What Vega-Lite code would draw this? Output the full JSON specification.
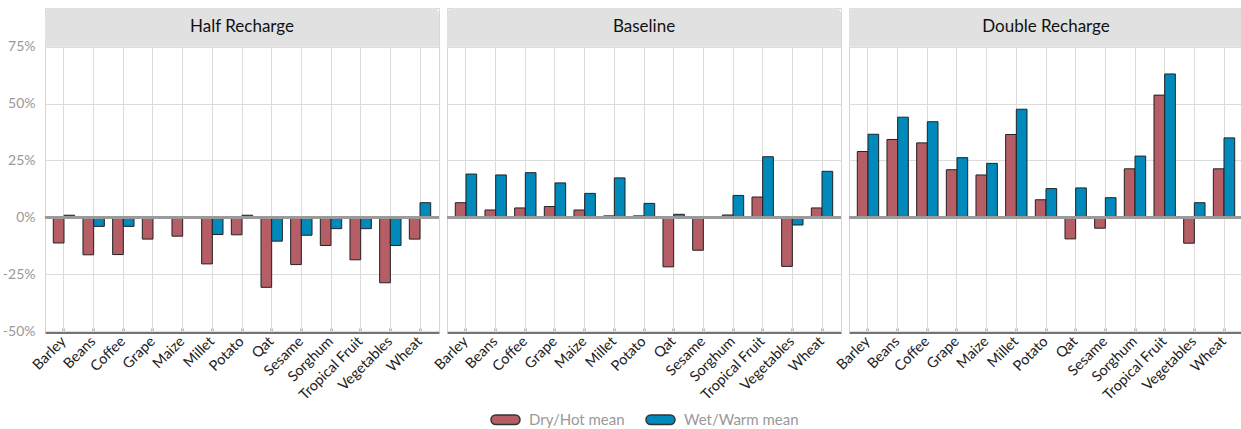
{
  "$schema": "https://vega.github.io/schema/vega-lite/v6.json",
  "padding": {"left": 2, "top": 7, "right": 0, "bottom": 0},
  "background": "white",
  "data": {"values": [
    {"scenario": "Half Recharge", "crop": "Barley", "Dry/Hot mean": -11.3, "Wet/Warm mean": 0.9},
    {"scenario": "Half Recharge", "crop": "Beans", "Dry/Hot mean": -16.5, "Wet/Warm mean": -4.0},
    {"scenario": "Half Recharge", "crop": "Coffee", "Dry/Hot mean": -16.4, "Wet/Warm mean": -4.0},
    {"scenario": "Half Recharge", "crop": "Grape", "Dry/Hot mean": -9.6},
    {"scenario": "Half Recharge", "crop": "Maize", "Dry/Hot mean": -8.3},
    {"scenario": "Half Recharge", "crop": "Millet", "Dry/Hot mean": -20.5, "Wet/Warm mean": -7.6},
    {"scenario": "Half Recharge", "crop": "Potato", "Dry/Hot mean": -7.7, "Wet/Warm mean": 0.9},
    {"scenario": "Half Recharge", "crop": "Qat", "Dry/Hot mean": -30.8, "Wet/Warm mean": -10.5},
    {"scenario": "Half Recharge", "crop": "Sesame", "Dry/Hot mean": -20.8, "Wet/Warm mean": -7.9},
    {"scenario": "Half Recharge", "crop": "Sorghum", "Dry/Hot mean": -12.4, "Wet/Warm mean": -5.0},
    {"scenario": "Half Recharge", "crop": "Tropical Fruit", "Dry/Hot mean": -18.7, "Wet/Warm mean": -5.0},
    {"scenario": "Half Recharge", "crop": "Vegetables", "Dry/Hot mean": -28.8, "Wet/Warm mean": -12.4},
    {"scenario": "Half Recharge", "crop": "Wheat", "Dry/Hot mean": -9.6, "Wet/Warm mean": 6.4},
    {"scenario": "Baseline", "crop": "Barley", "Dry/Hot mean": 6.4, "Wet/Warm mean": 19.0},
    {"scenario": "Baseline", "crop": "Beans", "Dry/Hot mean": 3.2, "Wet/Warm mean": 18.6},
    {"scenario": "Baseline", "crop": "Coffee", "Dry/Hot mean": 4.1, "Wet/Warm mean": 19.6},
    {"scenario": "Baseline", "crop": "Grape", "Dry/Hot mean": 4.7, "Wet/Warm mean": 15.1},
    {"scenario": "Baseline", "crop": "Maize", "Dry/Hot mean": 3.2, "Wet/Warm mean": 10.5},
    {"scenario": "Baseline", "crop": "Millet", "Dry/Hot mean": 0.6, "Wet/Warm mean": 17.3},
    {"scenario": "Baseline", "crop": "Potato", "Dry/Hot mean": 0.6, "Wet/Warm mean": 6.1},
    {"scenario": "Baseline", "crop": "Qat", "Dry/Hot mean": -21.8, "Wet/Warm mean": 1.3},
    {"scenario": "Baseline", "crop": "Sesame", "Dry/Hot mean": -14.5},
    {"scenario": "Baseline", "crop": "Sorghum", "Dry/Hot mean": 1.0, "Wet/Warm mean": 9.6},
    {"scenario": "Baseline", "crop": "Tropical Fruit", "Dry/Hot mean": 8.9, "Wet/Warm mean": 26.6},
    {"scenario": "Baseline", "crop": "Vegetables", "Dry/Hot mean": -21.6, "Wet/Warm mean": -3.4},
    {"scenario": "Baseline", "crop": "Wheat", "Dry/Hot mean": 4.1, "Wet/Warm mean": 20.2},
    {"scenario": "Double Recharge", "crop": "Barley", "Dry/Hot mean": 28.9, "Wet/Warm mean": 36.5},
    {"scenario": "Double Recharge", "crop": "Beans", "Dry/Hot mean": 34.2, "Wet/Warm mean": 44.0},
    {"scenario": "Double Recharge", "crop": "Coffee", "Dry/Hot mean": 32.7, "Wet/Warm mean": 42.0},
    {"scenario": "Double Recharge", "crop": "Grape", "Dry/Hot mean": 20.9, "Wet/Warm mean": 26.2},
    {"scenario": "Double Recharge", "crop": "Maize", "Dry/Hot mean": 18.6, "Wet/Warm mean": 23.7},
    {"scenario": "Double Recharge", "crop": "Millet", "Dry/Hot mean": 36.4, "Wet/Warm mean": 47.5},
    {"scenario": "Double Recharge", "crop": "Potato", "Dry/Hot mean": 7.7, "Wet/Warm mean": 12.6},
    {"scenario": "Double Recharge", "crop": "Qat", "Dry/Hot mean": -9.5, "Wet/Warm mean": 12.9},
    {"scenario": "Double Recharge", "crop": "Sesame", "Dry/Hot mean": -4.8, "Wet/Warm mean": 8.6},
    {"scenario": "Double Recharge", "crop": "Sorghum", "Dry/Hot mean": 21.3, "Wet/Warm mean": 26.9},
    {"scenario": "Double Recharge", "crop": "Tropical Fruit", "Dry/Hot mean": 53.7, "Wet/Warm mean": 63.0},
    {"scenario": "Double Recharge", "crop": "Vegetables", "Dry/Hot mean": -11.4, "Wet/Warm mean": 6.4},
    {"scenario": "Double Recharge", "crop": "Wheat", "Dry/Hot mean": 21.3, "Wet/Warm mean": 34.9}
  ]},
  "transform": [{"fold": ["Dry/Hot mean", "Wet/Warm mean"], "as": ["series", "value"]}],
  "facet": {
    "column": {
      "field": "scenario", "type": "nominal", "title": null,
      "sort": ["Half Recharge", "Baseline", "Double Recharge"],
      "header": {"labels": false, "title": null}
    }
  },
  "spacing": 4,
  "spec": {
    "width": 394,
    "height": 323,
    "layer": [
      {
        "transform": [{"filter": "isValid(datum.value)"}],
        "mark": {"type": "bar", "stroke": "#222", "strokeWidth": 1},
        "encoding": {
          "x": {
            "field": "crop", "type": "nominal",
            "scale": {"paddingInner": 0.28, "paddingOuter": 0.28},
            "axis": {
              "title": null, "labelAngle": -45, "labelFont": "Lato", "labelFontSize": 14.5,
              "labelColor": "#222", "domainColor": "#7a7272", "domainWidth": 3,
              "ticks": true, "tickSize": -4, "tickColor": "#7a7272", "tickWidth": 2,
              "grid": true, "gridColor": "#dcdcdc", "bandPosition": 0.5,
              "labelPadding": 11, "labelOverlap": false, "labelAlign": "right", "labelBaseline": "middle"
            }
          },
          "xOffset": {"field": "series", "type": "nominal"},
          "y": {
            "field": "value", "type": "quantitative",
            "scale": {"domain": [-50, 92], "nice": false, "zero": false},
            "axis": {
              "title": null, "values": [-50, -25, 0, 25, 50, 75],
              "labelExpr": "datum.value + '%'", "domain": false, "ticks": false,
              "labelColor": "#999", "labelFont": "Lato", "labelFontSize": 14,
              "gridColor": "#dcdcdc", "labelPadding": 8
            }
          },
          "color": {
            "field": "series", "type": "nominal",
            "scale": {"range": ["#b65e66", "#0089bb"]},
            "legend": {
              "title": null, "orient": "none", "direction": "horizontal",
              "legendX": 445, "legendY": 396,
              "symbolType": "M-0.67,-0.33L0.67,-0.33A0.33,0.33 0 0 1 0.67,0.33L-0.67,0.33A0.33,0.33 0 0 1 -0.67,-0.33Z",
              "symbolSize": 841, "symbolStrokeColor": "#333", "symbolStrokeWidth": 1.5,
              "symbolOpacity": 1, "labelColor": "#999", "labelFont": "Lato", "labelFontSize": 15,
              "columnPadding": 18, "labelOffset": 8
            }
          }
        }
      },
      {
        "mark": {"type": "rule", "color": "#9a9a9a", "strokeWidth": 2},
        "encoding": {"y": {"datum": 0, "type": "quantitative", "title": null}}
      },
      {
        "transform": [{"aggregate": [{"op": "count", "as": "n"}], "groupby": ["scenario"]}],
        "mark": {"type": "rect", "color": "#e1e1e1", "cornerRadiusTopLeft": 6, "cornerRadiusTopRight": 6},
        "encoding": {
          "y": {"datum": 92, "type": "quantitative", "title": null},
          "y2": {"datum": 75}
        }
      },
      {
        "transform": [{"aggregate": [{"op": "count", "as": "n"}], "groupby": ["scenario"]}],
        "mark": {"type": "text", "font": "Lato", "fontSize": 17, "color": "#111", "baseline": "middle"},
        "encoding": {
          "y": {"datum": 83.5, "type": "quantitative", "title": null},
          "text": {"field": "scenario"}
        }
      }
    ]
  },
  "config": {
    "font": "Lato",
    "view": {"stroke": "#d6d6d6"}
  }
}
